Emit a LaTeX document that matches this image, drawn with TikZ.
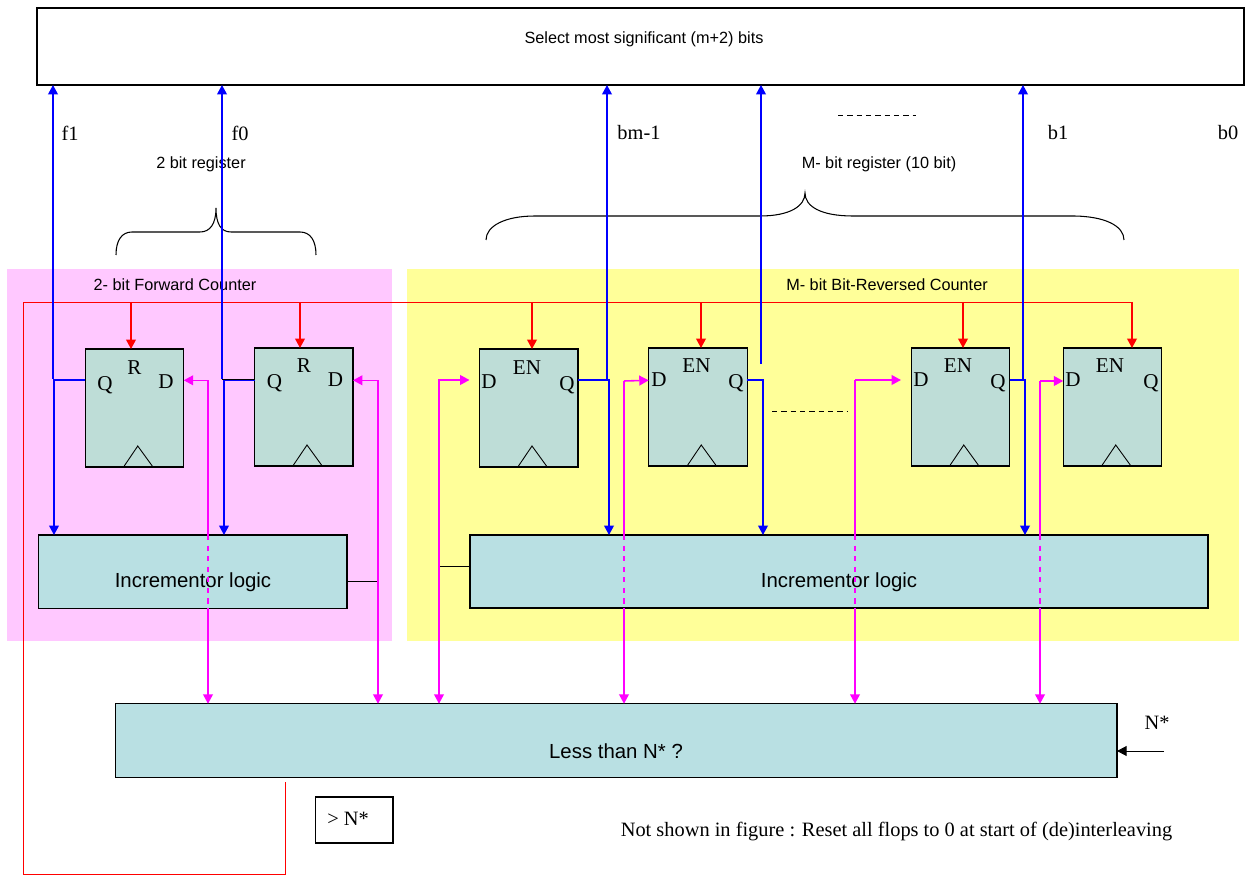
\documentclass[tikz,border=0pt]{standalone}
\usepackage{xcolor}
\usepackage{fontspec}
\setmainfont{Liberation Serif}
\newfontfamily\arialfont{Liberation Sans}
\usepackage{tikz}
\usetikzlibrary{shapes,arrows,arrows.meta,positioning,calc}
\definecolor{counterpink}{RGB}{255,200,255}
\definecolor{counteryellow}{RGB}{255,255,153}
\definecolor{flopteal}{RGB}{190,221,215}
\definecolor{logicteal}{RGB}{185,224,227}
\definecolor{wiremagenta}{RGB}{255,0,255}
\tikzset{
  >={Triangle[length=5.4pt,width=5.6pt]},
  boxline/.style={draw=black, line width=0.6pt, inner sep=0pt, outer sep=0pt},
  flopbox/.style={boxline, fill=flopteal, minimum width=1.97cm, minimum height=2.36cm},
  logicbox/.style={boxline, fill=logicteal},
  sanslabel/.style={font=\arialfont\fontsize{9.25}{11}\selectfont, inner sep=0pt},
  logiclabel/.style={font=\arialfont\fontsize{11.6}{13}\selectfont, inner sep=0pt},
  seriflabel/.style={font=\fontsize{11.6}{13}\selectfont, inner sep=0pt},
  floplabel/.style={font=\fontsize{12}{14}\selectfont, inner sep=0pt},
  resetbus/.style={red, line width=0.55pt},
  resetwire/.style={red, line width=0.85pt},
  bitwire/.style={blue, line width=0.85pt},
  incwire/.style={wiremagenta, line width=0.9pt},
  thinwire/.style={black, line width=0.5pt},
  dotrow/.style={black, line width=0.5pt, dash pattern=on 3.1pt off 2.2pt}
}
\newcommand{\clockmark}[1]{\draw[line width=0.5pt] ($(#1.south)+(-0.205,0.02)$) -- ++(0.27,0.40) -- ++(0.29,-0.40);}

\begin{document}
\begin{tikzpicture}
\useasboundingbox (0,0) rectangle (25,17.52);

% Background boxes
\fill[counterpink] (0.14,4.70) rectangle (7.84,12.14);
\fill[counteryellow] (8.14,4.70) rectangle (24.78,12.14);

% Top selector
\node[boxline, fill=white, minimum width=24.14cm, minimum height=1.54cm] (selbox) at (12.81,16.59) {};
\node[sanslabel] (seltext) at (12.88,16.74) {Select most significant (m+2) bits};

% Flops
\node[flopbox] (ff1) at (2.69,9.36) {};
\node[flopbox] (ff2) at (6.075,9.38) {};
\node[flopbox] (br1) at (10.575,9.36) {};
\node[flopbox] (br2) at (13.96,9.38) {};
\node[flopbox] (br3) at (19.21,9.38) {};
\node[flopbox] (br4) at (22.25,9.38) {};
\clockmark{ff1}
\clockmark{ff2}
\clockmark{br1}
\clockmark{br2}
\clockmark{br3}
\clockmark{br4}

% Flop pins
\node[floplabel] (ff1q) at (2.10,9.82) {Q};
\node[floplabel] (ff1r) at (2.69,10.16) {R};
\node[floplabel] (ff1d) at (3.32,9.88) {D};
\node[floplabel] (ff2q) at (5.49,9.86) {Q};
\node[floplabel] (ff2r) at (6.08,10.20) {R};
\node[floplabel] (ff2d) at (6.71,9.92) {D};
\node[floplabel] (br1d) at (9.78,9.88) {D};
\node[floplabel] (br1en) at (10.54,10.16) {EN};
\node[floplabel] (br1q) at (11.34,9.82) {Q};
\node[floplabel] (br2d) at (13.18,9.92) {D};
\node[floplabel] (br2en) at (13.93,10.20) {EN};
\node[floplabel] (br2q) at (14.72,9.86) {Q};
\node[floplabel] (br3d) at (18.42,9.92) {D};
\node[floplabel] (br3en) at (19.16,10.20) {EN};
\node[floplabel] (br3q) at (19.96,9.86) {Q};
\node[floplabel] (br4d) at (21.46,9.92) {D};
\node[floplabel] (br4en) at (22.20,10.20) {EN};
\node[floplabel] (br4q) at (23.02,9.86) {Q};

% Logic blocks
\node[logicbox, minimum width=6.17cm, minimum height=1.47cm] (inca) at (3.855,6.085) {};
\node[logiclabel] (incatext) at (3.86,5.87) {Incrementor logic};
\node[logicbox, minimum width=14.76cm, minimum height=1.46cm] (incb) at (16.78,6.09) {};
\node[logiclabel] (incbtext) at (16.78,5.87) {Incrementor logic};
\node[logicbox, minimum width=20.03cm, minimum height=1.47cm] (less) at (12.325,2.71) {};
\node[logiclabel] (lesstext) at (12.32,2.50) {Less than N* ?};
\node[boxline, fill=white, minimum width=1.55cm, minimum height=0.92cm] (gtbox) at (7.085,1.12) {};
\node[seriflabel] (gttext) at (6.96,1.14) {> N*};

% Labels
\node[seriflabel] (f1label) at (1.40,14.86) {f1};
\node[seriflabel] (f0label) at (4.80,14.86) {f0};
\node[seriflabel] (bmlabel) at (12.78,14.86) {bm-1};
\node[seriflabel] (b1label) at (21.16,14.86) {b1};
\node[seriflabel] (b0label) at (24.56,14.86) {b0};
\node[sanslabel] (reg2label) at (4.02,14.24) {2 bit register};
\node[sanslabel] (regmlabel) at (17.58,14.24) {M- bit register (10 bit)};
\node[sanslabel] (fwdlabel) at (3.50,11.82) {2- bit Forward Counter};
\node[sanslabel] (revlabel) at (17.74,11.82) {M- bit Bit-Reversed Counter};
\node[seriflabel] (nstarlabel) at (23.14,3.06) {N*};
\node[seriflabel] (notelabel) at (17.93,0.88) {Not shown in figure : Reset all flops to 0 at start of (de)interleaving};

% Braces
\draw[line width=0.6pt] (2.32,12.42) .. controls (2.32,12.72) and (2.44,12.88) .. (2.64,12.88) -- (4.00,12.88) .. controls (4.20,12.88) and (4.32,13.04) .. (4.32,13.36) .. controls (4.32,13.04) and (4.42,12.88) .. (4.62,12.88) -- (6.00,12.88) .. controls (6.20,12.88) and (6.32,12.72) .. (6.32,12.42);
\draw[line width=0.6pt] (9.72,12.72) .. controls (9.72,13.00) and (10.10,13.20) .. (10.70,13.20) -- (15.20,13.20) .. controls (15.80,13.20) and (16.10,13.40) .. (16.10,13.66) .. controls (16.10,13.40) and (16.40,13.20) .. (17.06,13.20) -- (21.44,13.20) .. controls (22.10,13.20) and (22.48,13.00) .. (22.48,12.72);

% Dotted rows
\coordinate (dotsa) at (16.76,15.21);
\coordinate (dotsaend) at (18.32,15.21);
\coordinate (dotsb) at (15.44,9.30);
\coordinate (dotsbend) at (16.96,9.30);
\draw[dotrow] (dotsa) -- (dotsaend);
\draw[dotrow] (dotsb) -- (dotsbend);

% Reset feedback
\coordinate (rstdrop) at (5.70,1.88);
\coordinate (rstlow) at (0.46,0.04);
\coordinate (rstleft) at (0.46,11.48);
\coordinate (rstright) at (22.64,11.48);
\draw[resetbus] (rstdrop) |- (rstlow) -- (rstleft) -- (rstright);
\coordinate (rst1) at (2.62,11.48);
\coordinate (rst2) at (6.00,11.48);
\coordinate (rst3) at (10.64,11.48);
\coordinate (rst4) at (14.02,11.48);
\coordinate (rst5) at (19.26,11.48);
\draw[resetwire,->] (rst1) -- (rst1 |- ff1.north);
\draw[resetwire,->] (rst2) -- (rst2 |- ff2.north);
\draw[resetwire,->] (rst3) -- (rst3 |- br1.north);
\draw[resetwire,->] (rst4) -- (rst4 |- br2.north);
\draw[resetwire,->] (rst5) -- (rst5 |- br3.north);
\draw[resetwire,->] (rstright) -- (rstright |- br4.north);

% Thin black connectors
\coordinate (incaout) at (7.56,5.90);
\coordinate (incbin) at (8.78,6.20);
\coordinate (nstarin) at (23.28,2.50);
\draw[thinwire] (inca.east |- incaout) -- (incaout);
\draw[thinwire] (incb.west |- incbin) -- (incbin);
\draw[thinwire,->] (nstarin) -- (less.east |- nstarin);

% Register bits up to selector, down to logic
\coordinate (up1) at (1.06,9.94);
\coordinate (down1) at (1.08,9.92);
\coordinate (up2) at (4.44,9.94);
\coordinate (down2) at (4.48,9.92);
\coordinate (up3) at (12.14,9.92);
\coordinate (down3) at (12.18,9.92);
\coordinate (up4) at (15.22,10.24);
\coordinate (down4) at (15.26,9.92);
\coordinate (up5) at (20.46,9.92);
\coordinate (down5) at (20.50,9.92);
\draw[bitwire,->] (up1) -- (up1 |- selbox.south);
\draw[bitwire,->] (up2) -- (up2 |- selbox.south);
\draw[bitwire,->] (up3) -- (up3 |- selbox.south);
\draw[bitwire,->] (up4) -- (up4 |- selbox.south);
\draw[bitwire,->] (up5) -- (up5 |- selbox.south);
\draw[bitwire,->] (ff1.west |- down1) -- (down1) -- (down1 |- inca.north);
\draw[bitwire,->] (ff2.west |- down2) -- (down2) -- (down2 |- inca.north);
\draw[bitwire,->] (br1.east |- down3) -- (down3) -- (down3 |- incb.north);
\draw[bitwire,->] (br2.east |- down4) -- (down4) -- (down4 |- incb.north);
\draw[bitwire,->] (br3.east |- down5) -- (down5) -- (down5 |- incb.north);
\draw[thinwire] (up2) -- (ff2.west |- up2);

% Next-count wires
\coordinate (next1) at (4.16,9.914);
\coordinate (next2) at (7.56,9.914);
\coordinate (next3) at (8.78,9.92);
\coordinate (next3end) at (9.39,9.92);
\coordinate (next4) at (12.48,9.90);
\coordinate (next5) at (17.10,9.92);
\coordinate (next5end) at (18.02,9.92);
\coordinate (next6) at (20.80,9.90);
\draw[incwire,->] (next1) -- (ff1.east |- next1);
\draw[incwire] (next1) -- (next1 |- inca.north);
\draw[incwire,dashed] (next1 |- inca.north) -- (next1 |- inca.south);
\draw[incwire,->] (next1 |- inca.south) -- (next1 |- less.north);
\draw[incwire,<->] (ff2.east |- next2) -- (next2) -- (next2 |- less.north);
\draw[incwire,<->] (next3end) -- (next3) -- (next3 |- less.north);
\draw[incwire,->] (next4) -- (br2.west |- next1);
\draw[incwire] (next4) -- (next4 |- incb.north);
\draw[incwire,dashed] (next4 |- incb.north) -- (next4 |- incb.south);
\draw[incwire,->] (next4 |- incb.south) -- (next4 |- less.north);
\draw[incwire,->] (next5) -- (next5end);
\draw[incwire] (next5) -- (next5 |- incb.north);
\draw[incwire,dashed] (next5 |- incb.north) -- (next5 |- incb.south);
\draw[incwire,->] (next5 |- incb.south) -- (next5 |- less.north);
\draw[incwire,->] (next6) -- (br4.west |- next6);
\draw[incwire] (next6) -- (next6 |- incb.north);
\draw[incwire,dashed] (next6 |- incb.north) -- (next6 |- incb.south);
\draw[incwire,->] (next6 |- incb.south) -- (next6 |- less.north);

\end{tikzpicture}
\end{document}
